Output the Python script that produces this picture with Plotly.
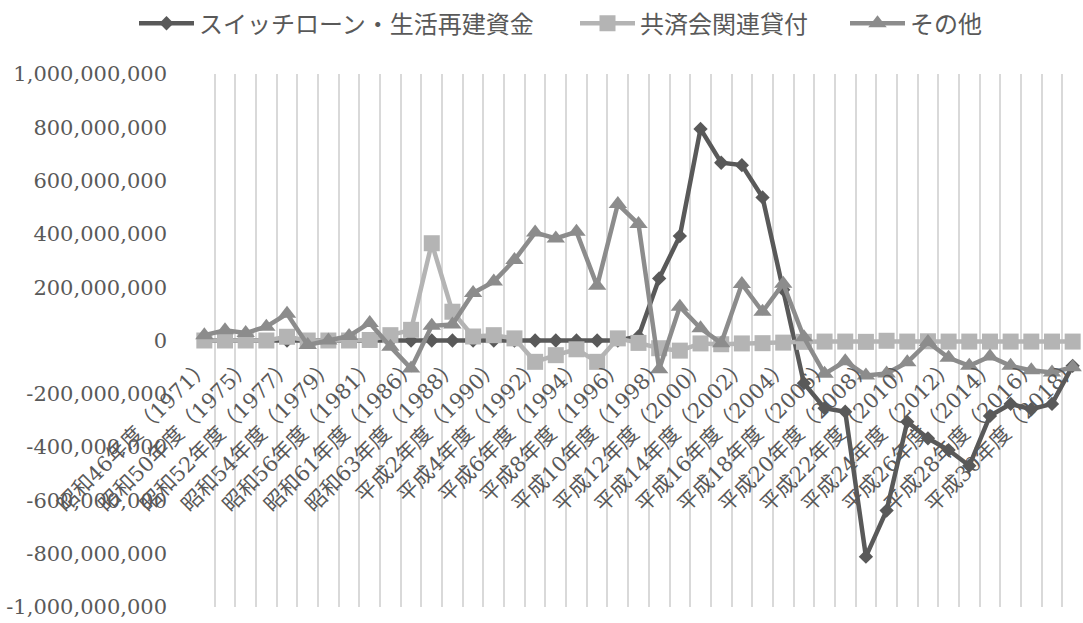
import plotly.graph_objects as go

categories = [
    "昭和46年度（1971）", "昭和49年度（1974）", "昭和50年度（1975）", "昭和51年度（1976）",
    "昭和52年度（1977）", "昭和53年度（1978）", "昭和54年度（1979）", "昭和55年度（1980）",
    "昭和56年度（1981）", "昭和60年度（1985）", "昭和61年度（1986）", "昭和62年度（1987）",
    "昭和63年度（1988）", "平成元年度（1989）", "平成2年度（1990）", "平成3年度（1991）",
    "平成4年度（1992）", "平成5年度（1993）", "平成6年度（1994）", "平成7年度（1995）",
    "平成8年度（1996）", "平成9年度（1997）", "平成10年度（1998）", "平成11年度（1999）",
    "平成12年度（2000）", "平成13年度（2001）", "平成14年度（2002）", "平成15年度（2003）",
    "平成16年度（2004）", "平成17年度（2005）", "平成18年度（2006）", "平成19年度（2007）",
    "平成20年度（2008）", "平成21年度（2009）", "平成22年度（2010）", "平成23年度（2011）",
    "平成24年度（2012）", "平成25年度（2013）", "平成26年度（2014）", "平成27年度（2015）",
    "平成28年度（2016）", "平成29年度（2017）", "平成30年度（2018）",
]

series_names = ["スイッチローン・生活再建資金", "共済会関連貸付", "その他"]

switch_loan = [
    0, 0, 0, 0, 0, 0, 0, 0, 0, 0,
    0, 0, 0, 0, 0, 0, 0, 0, 0, 0,
    0, 15e6, 233e6, 392e6, 794e6, 667e6, 658e6, 537e6, 190e6, -160e6,
    -254e6, -267e6, -811e6, -638e6, -305e6, -367e6, -411e6, -470e6, -283e6, -238e6,
    -258e6, -238e6, -95e6,
]

kyosai = [
    0, 0, 0, 0, 14e6, 0, 0, 0, 2e6, 20e6,
    40e6, 365e6, 108e6, 15e6, 20e6, 8e6, -80e6, -55e6, -33e6, -80e6,
    8e6, -9e6, -29e6, -38e6, -11e6, -14e6, -11e6, -10e6, -8e6, -5e6,
    -4e6, -4e6, -5e6, -1e6, -4e6, -3e6, -4e6, -4e6, -4e6, -4e6,
    -4e6, -4e6, -4e6,
]

sonota = [
    20e6, 38e6, 28e6, 52e6, 100e6, -17e6, 0, 17e6, 66e6, -23e6,
    -105e6, 55e6, 60e6, 178e6, 221e6, 302e6, 405e6, 383e6, 408e6, 205e6,
    512e6, 437e6, -108e6, 127e6, 46e6, -10e6, 212e6, 108e6, 213e6, 12e6,
    -125e6, -78e6, -131e6, -124e6, -82e6, -6e6, -65e6, -95e6, -60e6, -95e6,
    -112e6, -120e6, -100e6,
]

y_ticks = [-1_000_000_000 + 200_000_000 * k for k in range(11)]

colors = ["#595959", "#b4b4b4", "#8c8c8c"]
symbols = ["diamond", "square", "triangle-up"]
sizes = [11, 16, 16]
legend_ids = ["legend", "legend2", "legend3"]
legend_x = [134, 575, 845]  # left edge of each legend entry, px

fig = go.Figure()
for name, vals, c, s, sz, lg in zip(series_names, [switch_loan, kyosai, sonota], colors, symbols, sizes, legend_ids):
    fig.add_trace(go.Scatter(
        x=categories, y=vals, name=name, mode="lines+markers",
        line=dict(color=c, width=4.5),
        marker=dict(symbol=s, size=sz, color=c, line=dict(width=0)),
        legend=lg,
    ))

tick_text = [c if i % 2 == 0 else "" for i, c in enumerate(categories)]

W, H = 1083, 623
legend_common = dict(
    orientation="h", xref="container", yref="container",
    xanchor="left", y=0.962, yanchor="middle",
    font=dict(family="Noto Sans CJK JP", size=24, color="#595959"),
    itemwidth=55, bgcolor="rgba(0,0,0,0)",
)

fig.update_layout(
    width=W, height=H,
    margin=dict(l=194, r=0, t=74, b=16),
    paper_bgcolor="white", plot_bgcolor="white",
    font=dict(family="DejaVu Serif, Noto Sans CJK JP", color="#595959"),
    legend=dict(x=legend_x[0] / W, **legend_common),
    legend2=dict(x=legend_x[1] / W, **legend_common),
    legend3=dict(x=legend_x[2] / W, **legend_common),
    xaxis=dict(
        type="category", range=[-0.5, len(categories) - 0.5],
        tickmode="array", tickvals=categories, ticktext=tick_text,
        tickson="boundaries", ticks="",
        showgrid=True, gridcolor="#d9d9d9", gridwidth=1.5,
        showline=False, zeroline=False,
        anchor="free", position=0.5,
        tickangle=-45, automargin=False, ticklabelstandoff=8,
        tickfont=dict(family="DejaVu Serif, Noto Sans CJK JP", size=21, color="#595959"),
    ),
    yaxis=dict(
        range=[-1_000_000_000, 1_000_000_000],
        tickmode="array", tickvals=y_ticks, ticktext=[f"{v:,}" for v in y_ticks],
        showgrid=False, zeroline=False, showline=False, ticks="",
        ticklabelstandoff=26, automargin=False,
        tickfont=dict(family="DejaVu Serif", size=21, color="#595959"),
    ),
    showlegend=True,
)

fig.write_html(
    "out.html",
    config={"displayModeBar": False},
    post_script="document.body.style.margin='0';document.body.style.overflow='hidden';",
)
